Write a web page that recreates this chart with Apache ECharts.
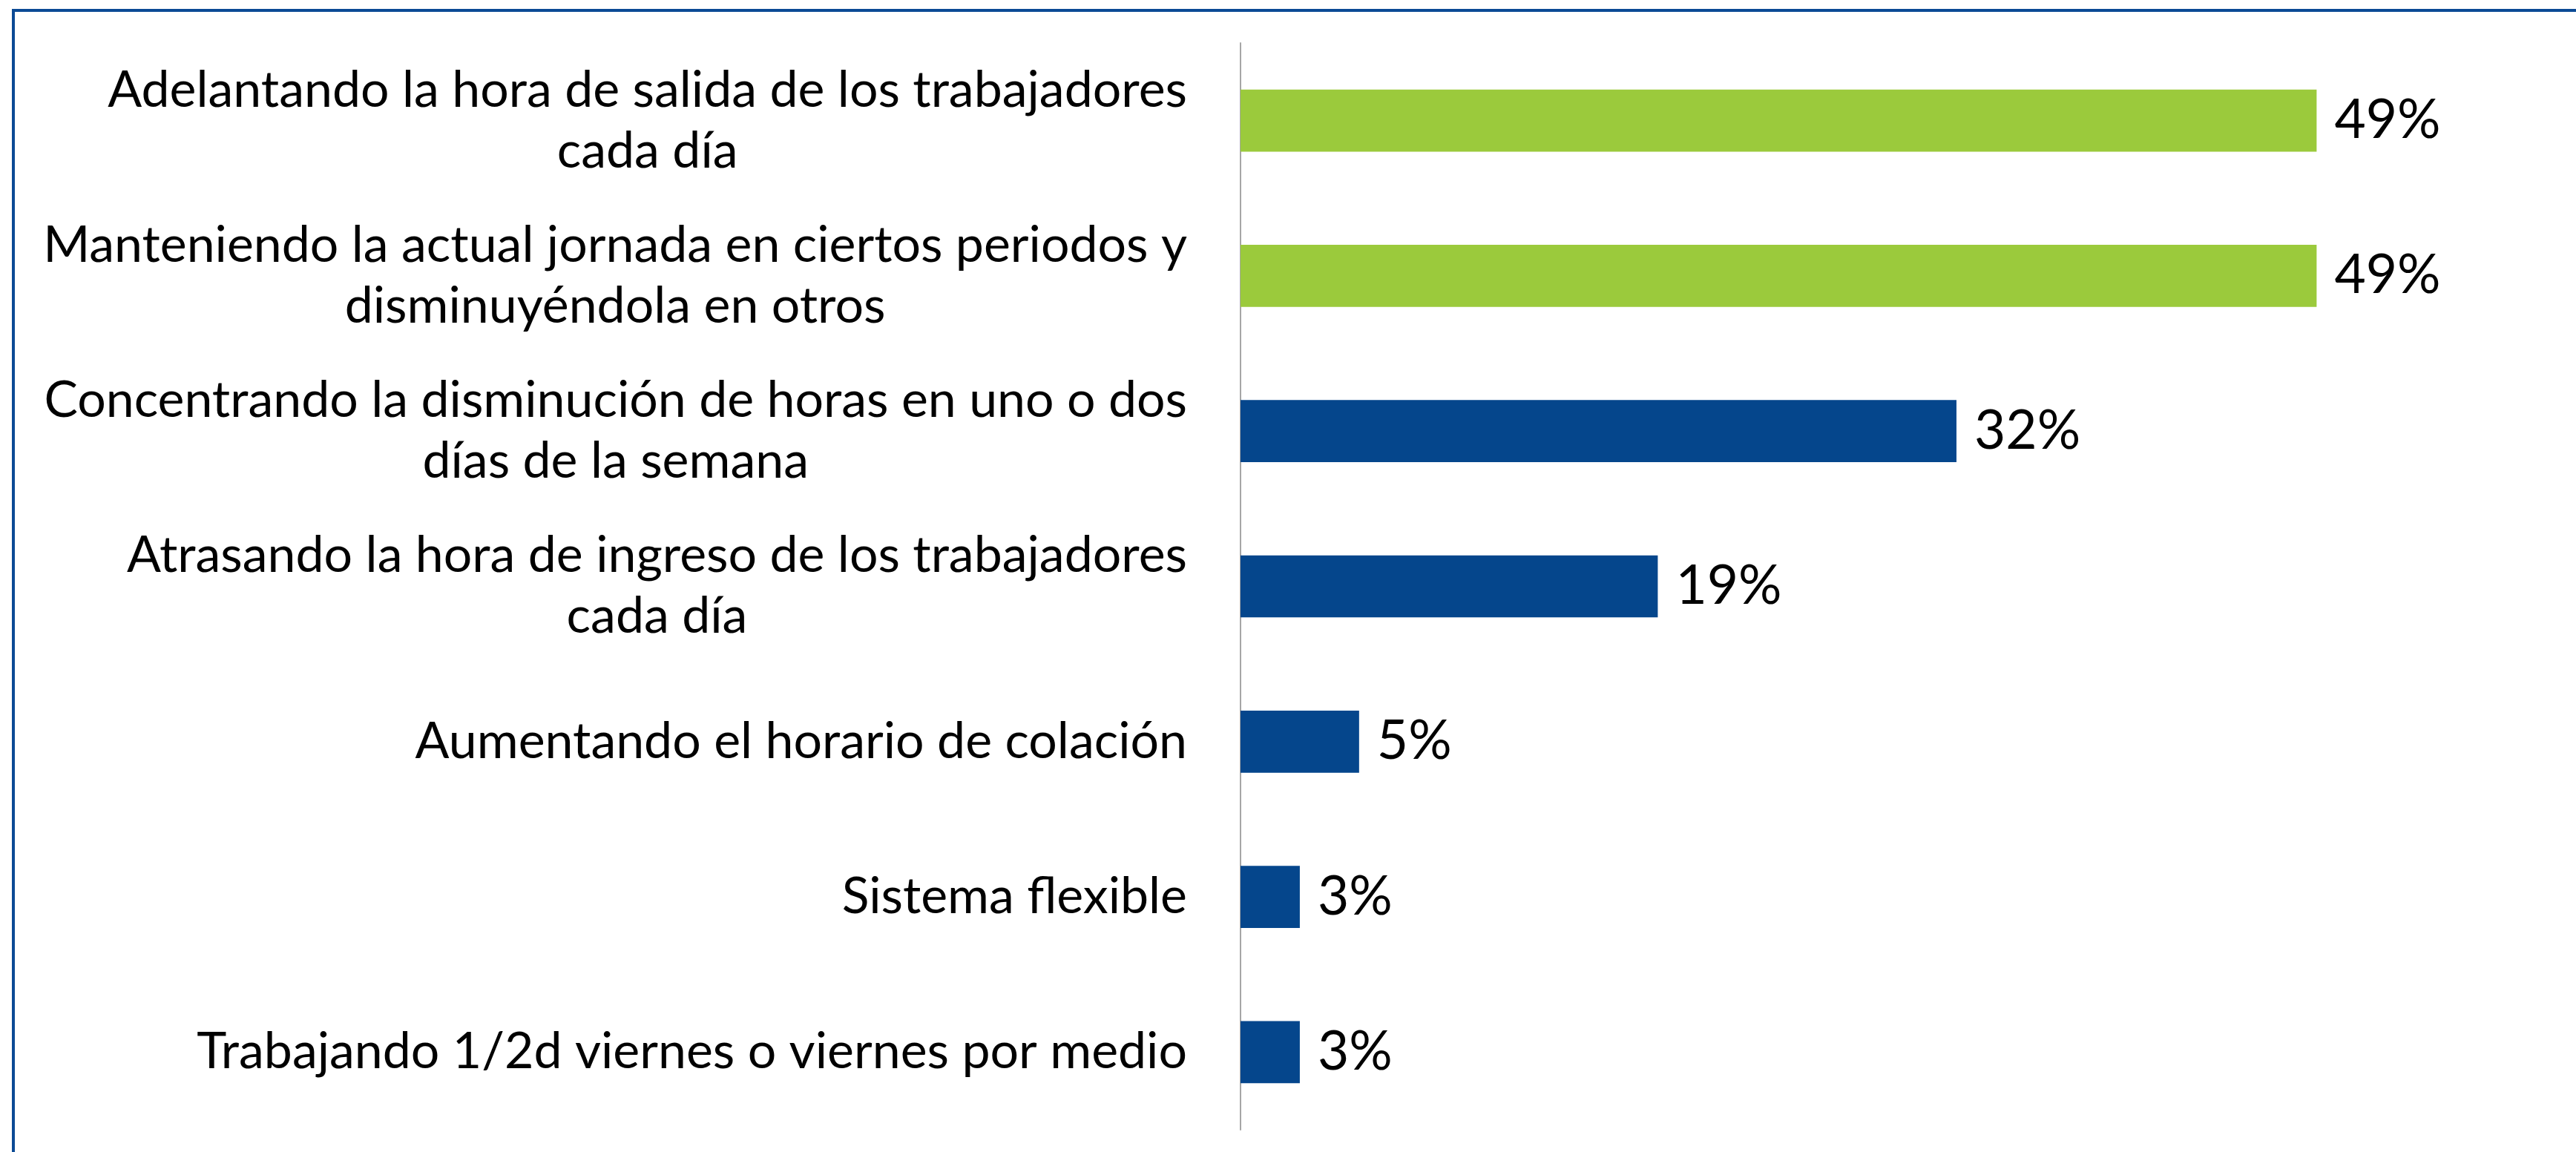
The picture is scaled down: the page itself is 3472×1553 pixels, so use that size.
<!DOCTYPE html>
<html>
<head>
<meta charset="utf-8">
<script src="https://cdn.jsdelivr.net/npm/echarts@6/dist/echarts.min.js"></script>
<style>
  html, body { margin: 0; padding: 0; background: #fff; }
  #main { width: 3472px; height: 1553px; }
</style>
</head>
<body>
<div id="main"></div>
<script>
// categorias (de arriba hacia abajo)
var categories = [
  'Adelantando la hora de salida de los trabajadores\ncada día',
  'Manteniendo la actual jornada en ciertos periodos y\ndisminuyéndola en otros',
  'Concentrando la disminución de horas en uno o dos\ndías de la semana',
  'Atrasando la hora de ingreso de los trabajadores\ncada día',
  'Aumentando el horario de colación',
  'Sistema flexible',
  'Trabajando 1/2d viernes o viernes por medio'
];
// largo de barra
var values = [49, 49, 32.6, 19, 5.4, 2.7, 2.7];
// etiquetas tal como aparecen
var labels = ['49%', '49%', '32%', '19%', '5%', '3%', '3%'];

var GREEN = '#9bca3c';
var BLUE = '#05468c';
var FONT = 'Lato';

var myChart = echarts.init(document.getElementById('main'));

var option = {
  backgroundColor: '#fff',
  animation: false,
  graphic: [
    // marco azul (arriba e izquierda)
    { type: 'rect', shape: { x: 16, y: 12, width: 3456, height: 4 }, style: { fill: '#0b4a95' } },
    { type: 'rect', shape: { x: 16, y: 12, width: 4, height: 1541 }, style: { fill: '#0b4a95' } }
  ],
  grid: {
    left: 1672,
    right: 24,
    top: 58,
    bottom: 30,
    containLabel: false
  },
  xAxis: {
    type: 'value',
    min: 0,
    max: 60,
    show: false
  },
  yAxis: {
    type: 'category',
    inverse: true,
    data: categories,
    axisLine: { lineStyle: { color: '#a6a6a6', width: 2 } },
    axisTick: { show: false },
    axisLabel: {
      margin: 72,
      align: 'right',
      color: '#000',
      fontFamily: FONT,
      fontSize: 68,
      lineHeight: 82,
      formatter: function (v) {
        return v.split('\n').map(function (s) { return '{c|' + s + '}'; }).join('\n');
      },
      rich: {
        c: { align: 'center', fontFamily: FONT, fontSize: 68, lineHeight: 82, color: '#000' }
      }
    }
  },
  series: [
    {
      type: 'bar',
      data: values,
      barCategoryGap: '60%',
      itemStyle: {
        color: function (p) { return p.dataIndex < 2 ? GREEN : BLUE; }
      },
      label: {
        show: true,
        position: 'right',
        distance: 24,
        color: '#000',
        fontFamily: FONT,
        fontSize: 73,
        formatter: function (p) { return labels[p.dataIndex]; }
      }
    }
  ]
};

myChart.setOption(option);
</script>
</body>
</html>
